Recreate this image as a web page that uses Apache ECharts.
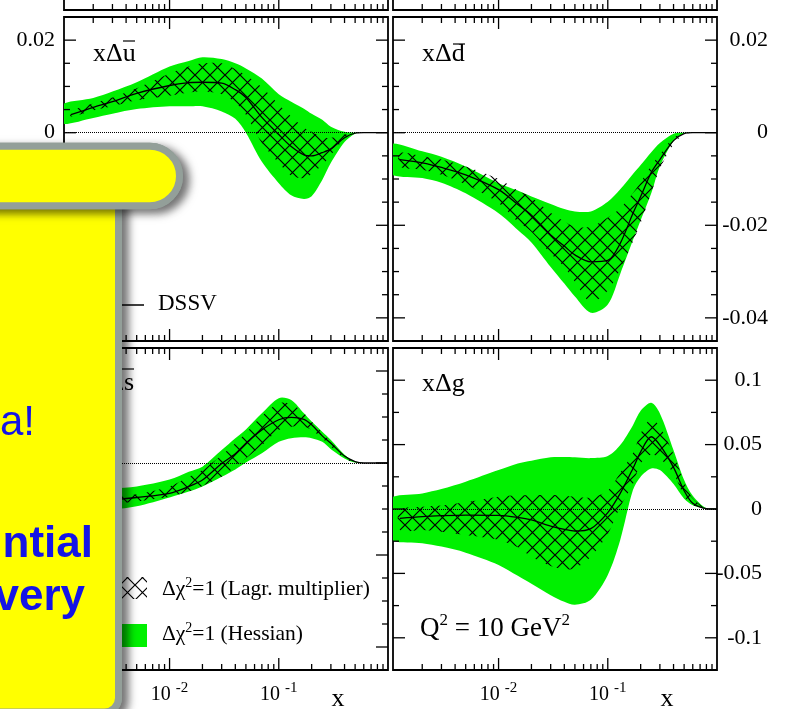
<!DOCTYPE html>
<html>
<head>
<meta charset="utf-8">
<title>DSSV sea quark and gluon helicity densities</title>
<script src="https://cdn.jsdelivr.net/npm/echarts@6.0.0/dist/echarts.min.js"></script>
<style>
  html, body { margin: 0; padding: 0; background: #fff; }
  #chart { width: 786px; height: 709px; }
</style>
</head>
<body>
<div id="chart"></div>
<script>
// ============================================
// DATA (Q^2 = 10 GeV^2)
// ============================================

const X_MIN = 0.00108;

// x grid for the Hessian bands (starts at the frame) and for the
// Lagrange-multiplier bands / central DSSV curves
const xHess = [0.001, 0.002, 0.003, 0.005, 0.01, 0.015, 0.02, 0.03, 0.04, 0.05, 0.07, 0.1, 0.13, 0.17, 0.2, 0.25, 0.3, 0.4, 0.5, 0.6, 0.8, 1.0];
const xCurve = [0.00125, 0.002, 0.003, 0.005, 0.01, 0.015, 0.02, 0.03, 0.04, 0.05, 0.07, 0.1, 0.13, 0.17, 0.2, 0.25, 0.3, 0.4, 0.5, 0.6, 0.8, 1.0];

// x Delta ubar
const ubarCentral = [0.0039, 0.0055, 0.0067, 0.0085, 0.0102, 0.0108, 0.0109, 0.0107, 0.0093, 0.0076, 0.0033, -0.0004, -0.0030, -0.0048, -0.0050, -0.0043, -0.0035, -0.0011, -0.0001, 0, 0, 0];
const ubarHessLo = [0.0020, 0.0032, 0.0041, 0.0051, 0.0057, 0.0057, 0.0057, 0.0046, 0.0030, 0.0000, -0.0063, -0.0109, -0.0135, -0.0143, -0.0137, -0.0102, -0.0065, -0.0020, -0.0002, 0, 0, 0];
const ubarHessHi = [0.0059, 0.0075, 0.0089, 0.0109, 0.0143, 0.0155, 0.0163, 0.0159, 0.0150, 0.0139, 0.0117, 0.0083, 0.0067, 0.0052, 0.0041, 0.0028, 0.0013, 0.0002, 0, 0, 0, 0];
const ubarLagLo = [0.0035, 0.0048, 0.0057, 0.0070, 0.0080, 0.0087, 0.0089, 0.0083, 0.0065, 0.0039, -0.0022, -0.0065, -0.0093, -0.0098, -0.0089, -0.0070, -0.0048, -0.0013, -0.0002, 0, 0, 0];
const ubarLagHi = [0.0046, 0.0063, 0.0076, 0.0096, 0.0128, 0.0143, 0.0150, 0.0150, 0.0137, 0.0124, 0.0098, 0.0061, 0.0035, 0.0011, 0.0002, -0.0009, -0.0011, -0.0004, 0, 0, 0, 0];

// x Delta dbar
const dbarCentral = [-0.0058, -0.0065, -0.0075, -0.0091, -0.0123, -0.0155, -0.0178, -0.0221, -0.0245, -0.0264, -0.0279, -0.0276, -0.0239, -0.0174, -0.0138, -0.0086, -0.0058, -0.0017, -0.0002, 0, 0, 0];
const dbarHessLo = [-0.0087, -0.0098, -0.0108, -0.0131, -0.0174, -0.0210, -0.0237, -0.0290, -0.0326, -0.0354, -0.0389, -0.0371, -0.0305, -0.0232, -0.0189, -0.0131, -0.0073, -0.0018, -0.0001, 0, 0, 0];
const dbarHessHi = [-0.0025, -0.0040, -0.0052, -0.0073, -0.0109, -0.0125, -0.0138, -0.0154, -0.0165, -0.0170, -0.0170, -0.0149, -0.0122, -0.0089, -0.0070, -0.0042, -0.0022, -0.0002, 0, 0, 0, 0];
const dbarLagLo = [-0.0073, -0.0080, -0.0091, -0.0112, -0.0152, -0.0192, -0.0214, -0.0261, -0.0290, -0.0322, -0.0366, -0.0341, -0.0295, -0.0235, -0.0195, -0.0130, -0.0078, -0.0025, -0.0004, 0, 0, 0];
const dbarLagHi = [-0.0044, -0.0051, -0.0058, -0.0073, -0.0100, -0.0125, -0.0140, -0.0173, -0.0192, -0.0203, -0.0203, -0.0183, -0.0163, -0.0130, -0.0107, -0.0071, -0.0047, -0.0011, -0.0001, 0, 0, 0];

// x Delta sbar
const sbarCentral = [-0.0084, -0.0083, -0.0080, -0.0075, -0.0066, -0.0051, -0.0037, -0.0001, 0.0020, 0.0043, 0.0072, 0.0094, 0.0099, 0.0095, 0.0083, 0.0059, 0.0043, 0.0015, 0.0003, 0, 0, 0];
const sbarHessLo = [-0.0106, -0.0104, -0.0101, -0.0094, -0.0075, -0.0062, -0.0051, -0.0030, -0.0014, 0.0001, 0.0021, 0.0046, 0.0054, 0.0056, 0.0054, 0.0046, 0.0030, 0.0010, 0.0001, 0, 0, 0];
const sbarHessHi = [-0.0059, -0.0057, -0.0055, -0.0051, -0.0036, -0.0019, -0.0008, 0.0028, 0.0054, 0.0073, 0.0108, 0.0141, 0.0137, 0.0108, 0.0090, 0.0068, 0.0050, 0.0018, 0.0003, 0, 0, 0];
const sbarLagLo = [-0.0091, -0.0090, -0.0088, -0.0084, -0.0073, -0.0062, -0.0050, -0.0030, -0.0008, 0.0010, 0.0039, 0.0072, 0.0079, 0.0079, 0.0072, 0.0054, 0.0036, 0.0010, 0.0001, 0, 0, 0];
const sbarLagHi = [-0.0077, -0.0075, -0.0073, -0.0068, -0.0051, -0.0030, -0.0015, 0.0017, 0.0043, 0.0065, 0.0102, 0.0130, 0.0128, 0.0108, 0.0090, 0.0066, 0.0046, 0.0016, 0.0002, 0, 0, 0];

// x Delta g
const gCentral = [-0.0072, -0.0059, -0.0052, -0.0047, -0.0049, -0.0065, -0.0085, -0.0132, -0.0158, -0.0171, -0.0152, -0.0028, 0.0121, 0.0315, 0.0444, 0.0561, 0.0496, 0.0323, 0.0142, 0.0044, 0.0003, 0];
const gHessLo = [-0.0227, -0.0266, -0.0292, -0.0339, -0.0434, -0.0519, -0.0581, -0.0669, -0.0721, -0.0744, -0.0705, -0.0512, -0.0240, 0.0147, 0.0251, 0.0315, 0.0302, 0.0194, 0.0080, 0.0030, 0.0003, 0];
const gHessHi = [0.0075, 0.0121, 0.0155, 0.0212, 0.0302, 0.0354, 0.0375, 0.0401, 0.0403, 0.0401, 0.0395, 0.0411, 0.0496, 0.0651, 0.0762, 0.0824, 0.0742, 0.0457, 0.0225, 0.0103, 0.0005, 0];
const gLagLo = [-0.0163, -0.0163, -0.0176, -0.0202, -0.0240, -0.0297, -0.0370, -0.0442, -0.0468, -0.0460, -0.0370, -0.0194, 0.0018, 0.0194, 0.0354, 0.0424, 0.0393, 0.0276, 0.0100, 0.0030, 0.0002, 0];
const gLagHi = [-0.0008, 0.0018, 0.0028, 0.0052, 0.0096, 0.0106, 0.0109, 0.0109, 0.0103, 0.0096, 0.0090, 0.0142, 0.0282, 0.0432, 0.0587, 0.0703, 0.0638, 0.0426, 0.0212, 0.0083, 0.0005, 0];

// Ticks and tick labels
const xMajorTicks = [0.01, 0.1];
const xMinorTicks = [0.002, 0.003, 0.004, 0.005, 0.006, 0.007, 0.008, 0.009,
                     0.02, 0.03, 0.04, 0.05, 0.06, 0.07, 0.08, 0.09,
                     0.2, 0.3, 0.4, 0.5, 0.6, 0.7, 0.8, 0.9];
const xLabelExponents = [-2, -1];
const seaYRange = [-0.045, 0.025, 0.005];
const seaYTicks = [-0.04, -0.035, -0.03, -0.025, -0.02, -0.015, -0.01, -0.005, 0, 0.005, 0.01, 0.015, 0.02];
const seaYLabels = [0.02, 0, -0.02, -0.04];
const gluonYRange = [-0.125, 0.125, 0.025];
const gluonYTicks = [-0.1, -0.075, -0.05, -0.025, 0, 0.025, 0.05, 0.075, 0.1];
const gluonYLabels = [0.1, 0.05, 0, -0.05, -0.1];

// ============================================
// STYLE
// ============================================

const GREEN = '#00f000';
const SERIF = '"Liberation Serif", "Times New Roman", serif';
const SANS = '"Liberation Sans", Arial, sans-serif';
const BOX_YELLOW = '#ffff00';
const BOX_GRAY = '#939f99';
const BOX_BLUE = '#1414e6';

// Cross-hatch tile used for the Lagrange multiplier bands
function makeHatchCanvas() {
    const s = 15;
    const c = document.createElement('canvas');
    c.width = s;
    c.height = s;
    const ctx = c.getContext('2d');
    ctx.strokeStyle = '#000';
    ctx.lineWidth = 1.2;
    ctx.beginPath();
    ctx.moveTo(-1, -1); ctx.lineTo(s + 1, s + 1);
    ctx.moveTo(s + 1, -1); ctx.lineTo(-1, s + 1);
    ctx.stroke();
    return c;
}
const hatchFill = { image: makeHatchCanvas(), repeat: 'repeat' };

// ============================================
// GRIDS AND AXES
// ============================================

const gridBoxes = [
    { left: 64, top: 17, width: 324, height: 324 },   // x Delta ubar
    { left: 393, top: 17, width: 324, height: 324 },  // x Delta dbar
    { left: 64, top: 348, width: 324, height: 322 },  // x Delta sbar
    { left: 393, top: 348, width: 324, height: 322 }, // x Delta g
    { left: 64, top: -314, width: 324, height: 324 }, // panels above, cut off
    { left: 393, top: -314, width: 324, height: 324 }
];

const grids = gridBoxes.map(g => Object.assign({
    show: true,
    borderColor: '#000',
    borderWidth: 1.8,
    backgroundColor: 'transparent',
    containLabel: false,
    outerBoundsMode: 'none'
}, g));

function xAxisFor(gi, showLabels) {
    return {
        type: 'log',
        logBase: 10,
        gridIndex: gi,
        min: X_MIN,
        max: 1,
        splitNumber: 3,
        axisLine: { show: false },
        axisTick: { show: false },
        splitLine: { show: false },
        axisLabel: {
            show: showLabels,
            margin: 11,
            formatter: v => {
                const l = Math.log10(v);
                const e = Math.round(l);
                return Math.abs(l - e) < 1e-6 && xLabelExponents.includes(e) ? '{n|10 }{s|' + e + '}' : '';
            },
            rich: {
                n: { fontFamily: SERIF, fontSize: 20, color: '#000', lineHeight: 28 },
                s: { fontFamily: SERIF, fontSize: 15, color: '#000', lineHeight: 6, verticalAlign: 'top' }
            }
        }
    };
}

function yAxisFor(gi, range, labels, position, margin, showLabels) {
    return {
        type: 'value',
        gridIndex: gi,
        position: position,
        min: range[0],
        max: range[1],
        interval: range[2],
        axisLine: { show: false },
        axisTick: { show: false },
        splitLine: { show: false },
        axisLabel: {
            show: showLabels,
            margin: margin,
            align: 'right',
            fontFamily: SERIF,
            fontSize: 22,
            color: '#000',
            formatter: v => labels.some(l => Math.abs(l - v) < 1e-9) ? String(Math.round(v * 1000) / 1000) : ''
        }
    };
}

const xAxes = [
    xAxisFor(0, false), xAxisFor(1, false), xAxisFor(2, true), xAxisFor(3, true),
    xAxisFor(4, false), xAxisFor(5, false)
];
const yAxes = [
    yAxisFor(0, seaYRange, seaYLabels, 'left', 9, true),
    yAxisFor(1, seaYRange, seaYLabels, 'right', 51, true),
    yAxisFor(2, seaYRange, seaYLabels, 'left', 9, false),
    yAxisFor(3, gluonYRange, gluonYLabels, 'right', 45, true),
    yAxisFor(4, [0, 1, 0.5], [], 'left', 9, false),
    yAxisFor(5, [0, 1, 0.5], [], 'left', 9, false)
];

// ============================================
// SERIES
// ============================================

// Filled uncertainty band between lo and hi
function bandSeries(gi, xs, lo, hi, fill) {
    return {
        type: 'custom',
        xAxisIndex: gi,
        yAxisIndex: gi,
        clip: true,
        silent: true,
        z: 2,
        data: xs.map((x, i) => [x, lo[i], hi[i]]),
        encode: { x: 0, y: [1, 2] },
        renderItem: (params, api) => {
            if (params.dataIndex !== 0) return;
            const top = xs.map((x, i) => api.coord([x, hi[i]]));
            const bottom = xs.map((x, i) => api.coord([x, lo[i]])).reverse();
            return {
                type: 'polygon',
                shape: { points: top.concat(bottom), smooth: 0.3 },
                style: { fill: fill }
            };
        }
    };
}

// Central DSSV curve plus the dotted zero line
function centralSeries(gi, xs, ys) {
    return {
        type: 'line',
        xAxisIndex: gi,
        yAxisIndex: gi,
        silent: true,
        z: 3,
        data: xs.map((x, i) => [x, ys[i]]),
        smooth: 0.3,
        symbol: 'none',
        lineStyle: { color: '#000', width: 1.3 },
        markLine: {
            silent: true,
            symbol: ['none', 'none'],
            label: { show: false },
            lineStyle: { color: '#000', type: 'dotted', width: 1 },
            data: [{ yAxis: 0 }]
        }
    };
}

function tickLine(x1, y1, x2, y2) {
    return { type: 'line', shape: { x1, y1, x2, y2 }, style: { stroke: '#000', lineWidth: 1.3 } };
}

const xTickData = xMajorTicks.map(v => [v, 0, 1]).concat(xMinorTicks.map(v => [v, 0, 0]));

// Inward ticks on the top and bottom frame edges
function xTickSeries(gi) {
    return {
        type: 'custom',
        xAxisIndex: gi,
        yAxisIndex: gi,
        silent: true,
        z: 5,
        data: xTickData,
        renderItem: (params, api) => {
            const cs = params.coordSys;
            const px = api.coord([api.value(0), 0])[0];
            const len = api.value(2) ? 12 : 6;
            return {
                type: 'group',
                children: [
                    tickLine(px, cs.y, px, cs.y + len),
                    tickLine(px, cs.y + cs.height, px, cs.y + cs.height - len)
                ]
            };
        }
    };
}

// Inward ticks on the left and right frame edges
function yTickSeries(gi, ticks, labels) {
    return {
        type: 'custom',
        xAxisIndex: gi,
        yAxisIndex: gi,
        silent: true,
        z: 5,
        data: ticks.map(v => [X_MIN, v, labels.some(l => Math.abs(l - v) < 1e-9) ? 1 : 0]),
        renderItem: (params, api) => {
            const cs = params.coordSys;
            const py = api.coord([X_MIN, api.value(1)])[1];
            const len = api.value(2) ? 12 : 6;
            return {
                type: 'group',
                children: [
                    tickLine(cs.x, py, cs.x + len, py),
                    tickLine(cs.x + cs.width, py, cs.x + cs.width - len, py)
                ]
            };
        }
    };
}

const panels = [
    { central: ubarCentral, hessLo: ubarHessLo, hessHi: ubarHessHi, lagLo: ubarLagLo, lagHi: ubarLagHi, ticks: seaYTicks, labels: seaYLabels },
    { central: dbarCentral, hessLo: dbarHessLo, hessHi: dbarHessHi, lagLo: dbarLagLo, lagHi: dbarLagHi, ticks: seaYTicks, labels: seaYLabels },
    { central: sbarCentral, hessLo: sbarHessLo, hessHi: sbarHessHi, lagLo: sbarLagLo, lagHi: sbarLagHi, ticks: seaYTicks, labels: seaYLabels },
    { central: gCentral, hessLo: gHessLo, hessHi: gHessHi, lagLo: gLagLo, lagHi: gLagHi, ticks: gluonYTicks, labels: gluonYLabels }
];

const series = [];
panels.forEach((p, gi) => {
    series.push(bandSeries(gi, xHess, p.hessLo, p.hessHi, GREEN));
    series.push(bandSeries(gi, xCurve, p.lagLo, p.lagHi, hatchFill));
    series.push(centralSeries(gi, xCurve, p.central));
    series.push(xTickSeries(gi));
    series.push(yTickSeries(gi, p.ticks, p.labels));
});
series.push(xTickSeries(4));
series.push(xTickSeries(5));

// ============================================
// TEXT, LEGEND AND THE OVERLAID SLIDE BOX
// ============================================

// Place text by its baseline (canvas "middle" sits ~0.34em above it)
function text(str, x, baseline, size, extra) {
    const style = Object.assign({
        text: str,
        x: x,
        y: baseline - 0.34 * size,
        fontFamily: SERIF,
        fontSize: size,
        fill: '#000',
        align: 'left',
        textAlign: 'left',
        verticalAlign: 'middle',
        textVerticalAlign: 'middle'
    }, extra || {});
    return { type: 'text', z: 50, silent: true, style: style };
}

function overline(x1, x2, y) {
    return { type: 'line', z: 50, silent: true, shape: { x1, y1: y, x2, y2: y }, style: { stroke: '#000', lineWidth: 1.2 } };
}

const supRich = size => ({
    n: { fontFamily: SERIF, fontSize: size, fill: '#000', color: '#000', lineHeight: size + 6 },
    s: { fontFamily: SERIF, fontSize: Math.round(size * 0.64), fill: '#000', color: '#000', lineHeight: Math.round(size * 0.85), verticalAlign: 'top' }
});

const boxShadow = { shadowBlur: 10, shadowOffsetX: 6, shadowOffsetY: 4, shadowColor: 'rgba(0,0,0,0.5)' };
const vertShape = { x: -30, y: 190, width: 148.5, height: 522, r: 14 };
const barShape = { x: -30, y: 146.2, width: 209.5, height: 59.6, r: [0, 29.8, 29.8, 0] };

const graphics = [
    // panel labels
    text('x\u0394u', 93, 63, 26),
    overline(123, 135, 41),
    text('x\u0394d', 422, 63, 26),
    overline(453, 465, 44),
    text('x\u0394s', 134, 392, 26, { align: 'right', textAlign: 'right' }),
    overline(122, 134, 369),
    text('x\u0394g', 422, 393, 26),
    text('{n|Q}{s|2}{n| = 10 GeV}{s|2}', 420, 638, 27, { rich: supRich(27) }),

    // axis titles
    text('x', 338, 708, 26, { align: 'center', textAlign: 'center' }),
    text('x', 667, 708, 26, { align: 'center', textAlign: 'center' }),

    // legend
    { type: 'line', z: 50, silent: true, shape: { x1: 100, y1: 305, x2: 144, y2: 305 }, style: { stroke: '#000', lineWidth: 1.5 } },
    text('DSSV', 158, 312, 23),
    { type: 'rect', z: 50, silent: true, shape: { x: 100, y: 577, width: 47, height: 22 }, style: { fill: hatchFill } },
    text('{n|\u0394\u03c7}{s|2}{n|=1 (Lagr. multiplier)}', 162, 597, 21.5, { rich: supRich(21.5) }),
    { type: 'rect', z: 50, silent: true, shape: { x: 100, y: 624, width: 47, height: 23 }, style: { fill: GREEN } },
    text('{n|\u0394\u03c7}{s|2}{n|=1 (Hessian)}', 162, 642, 21.5, { rich: supRich(21.5) }),

    // yellow slide box lying over the left of the figure
    { type: 'rect', z: 100, silent: true, shape: vertShape, style: Object.assign({ fill: BOX_GRAY, stroke: BOX_GRAY, lineWidth: 7 }, boxShadow) },
    { type: 'rect', z: 101, silent: true, shape: vertShape, style: { fill: BOX_YELLOW, stroke: BOX_GRAY, lineWidth: 7 } },
    { type: 'rect', z: 102, silent: true, shape: barShape, style: Object.assign({ fill: BOX_GRAY, stroke: BOX_GRAY, lineWidth: 7 }, boxShadow) },
    { type: 'rect', z: 103, silent: true, shape: barShape, style: { fill: BOX_YELLOW, stroke: BOX_GRAY, lineWidth: 7 } },
    Object.assign(text('a!', 35, 438, 42, { fontFamily: SANS, fill: BOX_BLUE, align: 'right', textAlign: 'right' }), { z: 104 }),
    Object.assign(text('ntial', 93, 560, 44, { fontFamily: SANS, fontWeight: 'bold', fill: BOX_BLUE, align: 'right', textAlign: 'right' }), { z: 104 }),
    Object.assign(text('very', 85, 613, 44, { fontFamily: SANS, fontWeight: 'bold', fill: BOX_BLUE, align: 'right', textAlign: 'right' }), { z: 104 })
];

// ============================================
// RENDER
// ============================================

const chart = echarts.init(document.getElementById('chart'), null, { renderer: 'canvas' });
chart.setOption({
    animation: false,
    backgroundColor: '#fff',
    grid: grids,
    xAxis: xAxes,
    yAxis: yAxes,
    series: series,
    graphic: { elements: graphics }
});
</script>
</body>
</html>
